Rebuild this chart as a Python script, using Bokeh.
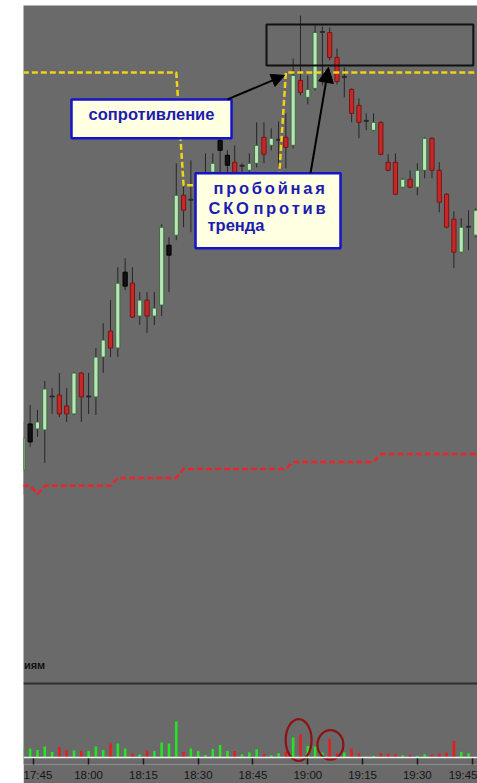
from bokeh.plotting import figure
from bokeh.models import (Range1d, LinearAxis, FixedTicker, Span, BoxAnnotation,
                          Label, Arrow, NormalHead, ColumnDataSource)
from bokeh.embed import file_html
from bokeh.resources import INLINE

# ---------------- data (2-minute bars) ----------------
times = ["17:42", "17:44", "17:46", "17:48", "17:50", "17:52", "17:54", "17:56", "17:58",
         "18:00", "18:02", "18:04", "18:06", "18:08", "18:10", "18:12", "18:14", "18:16",
         "18:18", "18:20", "18:22", "18:24", "18:26", "18:28", "18:30", "18:32", "18:34",
         "18:36", "18:38", "18:40", "18:42", "18:44", "18:46", "18:48", "18:50", "18:52",
         "18:54", "18:56", "18:58", "19:00", "19:02", "19:04", "19:06", "19:08", "19:10",
         "19:12", "19:14", "19:16", "19:18", "19:20", "19:22", "19:24", "19:26", "19:28",
         "19:30", "19:32", "19:34", "19:36", "19:38", "19:40", "19:42", "19:44", "19:46"]
opens = [330, 358, 371, 370, 403, 405, 394, 386, 427, 403, 403, 443, 469, 452, 514, 517,
         484, 500, 484, 495, 545, 565, 605, 600, 590, 595, 628, 650, 635, 638, 634, 630,
         637, 663, 655, 660, 663, 655, 720, 703, 712, 768, 768, 743, 723, 711, 695, 679,
         670, 678, 638, 638, 613, 621, 613, 630, 662, 630, 606, 581, 548, 573, 565]
highs = [378, 395, 390, 419, 412, 427, 412, 428, 428, 427, 452, 477, 500, 533, 542, 533,
         508, 508, 508, 576, 563, 637, 615, 640, 612, 647, 647, 667, 650, 655, 637, 647,
         678, 678, 672, 679, 687, 742, 785, 725, 775, 774, 773, 752, 733, 712, 702, 687,
         687, 679, 646, 647, 622, 630, 637, 663, 663, 638, 607, 589, 582, 590, 592]
lows = [305, 353, 363, 337, 386, 383, 378, 385, 378, 386, 385, 427, 443, 443, 510, 482,
        475, 467, 475, 484, 508, 560, 573, 568, 585, 590, 624, 627, 625, 622, 625, 625,
        633, 637, 650, 633, 632, 652, 705, 696, 710, 715, 740, 716, 703, 678, 662, 670,
        669, 645, 629, 605, 612, 612, 605, 622, 622, 588, 572, 532, 547, 550, 563]
closes = [362, 376, 378, 411, 403, 386, 386, 427, 403, 403, 443, 460, 452, 517, 528, 483,
          500, 484, 492, 573, 555, 605, 590, 600, 605, 620, 637, 660, 645, 628, 634, 637,
          655, 646, 662, 660, 653, 725, 708, 711, 768, 768, 743, 719, 723, 687, 678, 679,
          678, 646, 630, 606, 621, 613, 630, 662, 630, 598, 573, 548, 573, 573, 590]
marked = ["17:44", "18:10", "18:22", "18:36", "18:38"]   # dark-bodied signal candles
volumes = [1100, 900, 750, 1100, 550, 1050, 750, 700, 650, 650, 1100, 750, 1400, 1400, 900,
           400, 300, 700, 650, 1500, 1400, 3600, 550, 900, 650, 250, 850, 1250, 650, 650,
           330, 500, 830, 330, 230, 430, 570, 2000, 2330, 1150, 1100, 500, 1900, 430, 500,
           900, 430, 70, 170, 430, 400, 330, 230, 270, 170, 330, 300, 400, 500, 1670, 570,
           430, 0]
resistance = [728] * 22 + [615] * 14 + [728] * 27
support = [314, 314, 306] + [314] * 10 + [322] * 9 + [331] * 15 + [338] * 12 + [346] * 14
tick_labels = ["17:45", "18:00", "18:15", "18:30", "18:45", "19:00", "19:15", "19:30", "19:45"]
highlight_times = ["18:57", "19:06"]


def to_min(t):
    h, m = t.split(":")
    return (int(h) - 17) * 60 + int(m)


x = [to_min(t) for t in times]

GRAY = "#6a6a6a"
FONT = "Liberation Sans"

body_fill, body_line, vol_color = [], [], []
for t, o, c in zip(times, opens, closes):
    if t in marked:
        body_fill.append("#111111"); body_line.append("#000000")
    elif c > o:
        body_fill.append("#b8e6b8"); body_line.append("#3d6e3d")
    elif c < o:
        body_fill.append("#c62828"); body_line.append("#7a1414")
    else:
        body_fill.append("#2a2a2a"); body_line.append("#2a2a2a")
    vol_color.append("#e21e1e" if c < o else "#22e622")

src = ColumnDataSource(dict(
    x=x, o=opens, h=highs, l=lows, c=closes,
    top=[max(max(o, c), min(o, c) + 1) for o, c in zip(opens, closes)],
    bot=[min(o, c) for o, c in zip(opens, closes)],
    fill=body_fill, line=body_line, vol=volumes, vcol=vol_color,
    res=resistance, sup=support))

p = figure(width=454, height=778, x_range=Range1d(42.18, 166.46), y_range=Range1d(35, 795),
           output_backend="svg", toolbar_location=None,
           x_axis_location=None, y_axis_location=None,
           background_fill_color=GRAY, border_fill_color=GRAY, outline_line_color=None,
           min_border_left=0, min_border_right=0, min_border_top=0, min_border_bottom=18,
           margin=(5, 0, 0, 23))
p.grid.visible = False
p.extra_y_ranges = {"vol": Range1d(-700, 75300)}

# x axis with time labels
tvals = [to_min(t) for t in tick_labels]
xaxis = LinearAxis(ticker=FixedTicker(ticks=tvals),
                   major_label_overrides={v: lab for v, lab in zip(tvals, tick_labels)})
xaxis.axis_line_color = None
xaxis.major_tick_in = 7
xaxis.major_tick_out = 0
xaxis.major_tick_line_color = "#1a1a1a"
xaxis.major_tick_line_width = 1.5
xaxis.minor_tick_line_color = None
xaxis.major_label_standoff = 4
xaxis.major_label_text_font = FONT
xaxis.major_label_text_font_size = "11.5px"
xaxis.major_label_text_color = "#151515"
p.add_layout(xaxis, "below")

# separator between price and volume panes
p.add_layout(Span(location=116, dimension="width", line_color="#2e2e2e", line_width=2))
p.add_layout(Label(x=42.3, y=135, text="иям", text_font=FONT, text_font_size="11px",
                   text_font_style="bold", text_color="#111111", text_baseline="middle"))

# candles
p.segment(x0="x", y0="l", x1="x", y1="h", source=src, line_color="#262626", line_width=1)
p.vbar(x="x", width=1.15, top="top", bottom="bot", source=src,
       fill_color="fill", line_color="line", line_width=1)

# levels
p.line("x", "res", source=src, line_color="#f2d21b", line_width=2.5, line_dash="6 3")
p.line("x", "sup", source=src, line_color="#e8262a", line_width=2.5, line_dash="6 3")

# volume pane
p.add_layout(Span(location=0, dimension="width", y_range_name="vol",
                  line_color="#f2f2f2", line_width=1.5))
p.vbar(x="x", width=0.7, top="vol", bottom=0, source=src, y_range_name="vol",
       fill_color="vcol", line_color=None)
p.ellipse(x=[to_min(highlight_times[0]) + 0.5, to_min(highlight_times[1]) + 0.2],
          y=[1750, 1270], width=[7.1, 7.1], height=[4200, 2950], y_range_name="vol",
          fill_color=None, line_color="#8e1212", line_width=2.2)

# annotations
p.add_layout(BoxAnnotation(left=108.7, right=165.32, bottom=735, top=776,
                           fill_alpha=0, line_color="#111111", line_alpha=1, line_width=2))
p.add_layout(BoxAnnotation(left=55.32, right=99.12, bottom=662, top=701,
                           fill_color="#ffffe1", fill_alpha=1, line_color="#1414c8",
                           line_alpha=1, line_width=2.5))
p.add_layout(BoxAnnotation(left=89.27, right=128.96, bottom=552, top=627,
                           fill_color="#ffffe1", fill_alpha=1, line_color="#1414c8",
                           line_alpha=1, line_width=2.5))
p.add_layout(Arrow(end=NormalHead(size=13, fill_color="#000000", line_color="#000000"),
                   x_start=98.02, y_start=701, x_end=113.63, y_end=725,
                   line_color="#000000", line_width=2))
p.add_layout(Arrow(end=NormalHead(size=15, fill_color="#000000", line_color="#000000"),
                   x_start=120.75, y_start=627, x_end=125.67, y_end=733,
                   line_color="#000000", line_width=2))

TXT = "#1c1cb0"
FS = "16.5px"
p.add_layout(Label(x=77.22, y=677, text="сопротивление", text_align="center",
                   text_font=FONT, text_font_size=FS, text_font_style="bold",
                   text_color=TXT))
ts = "\u2006"
p.add_layout(Label(x=94.19, y=603, text=ts.join("пробойная"),
                   text_font=FONT, text_font_size=FS, text_font_style="bold",
                   text_color=TXT))
p.add_layout(Label(x=92.82, y=583.5, text=ts.join("СКО") + " " + ts.join("против"),
                   text_font=FONT, text_font_size=FS, text_font_style="bold",
                   text_color=TXT))
p.add_layout(Label(x=92.55, y=566, text="тренда",
                   text_font=FONT, text_font_size=FS, text_font_style="bold",
                   text_color=TXT))

open("out.html", "w").write(file_html(p, INLINE))
